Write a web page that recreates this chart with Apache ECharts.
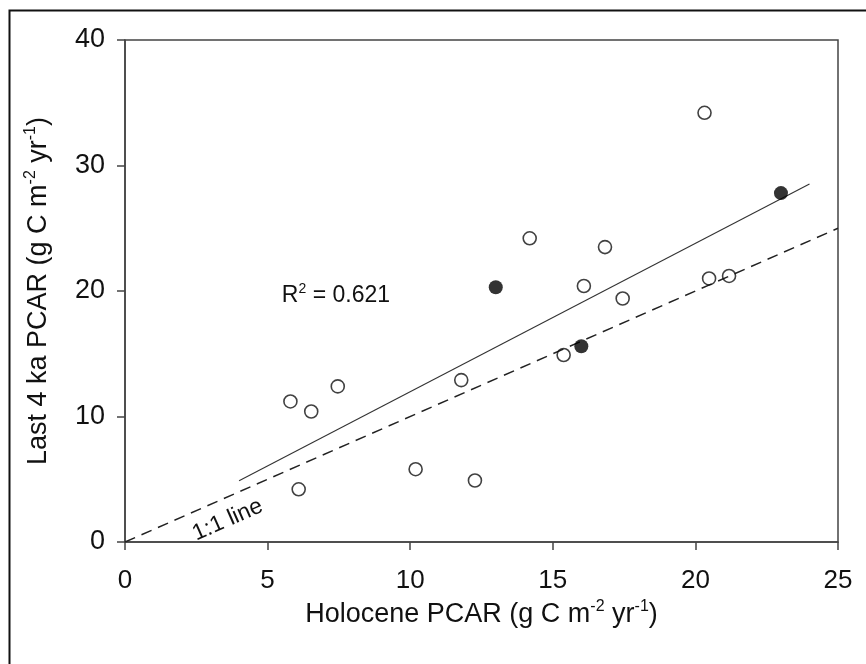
<!DOCTYPE html>
<html><head><meta charset="utf-8">
<script src="https://cdn.jsdelivr.net/npm/echarts@6/dist/echarts.min.js"></script>
<style>html,body{margin:0;padding:0;background:#fff}#c{width:866px;height:664px}</style>
</head><body><div id="c"></div>
<script>
// ---- data ----
const xTicks = [0, 5, 10, 15, 20, 25];
const yTicks = [0, 10, 20, 30, 40];
const openX = [5.80, 6.09, 6.53, 7.46, 10.19, 11.79, 12.27, 14.19, 15.38, 16.09, 16.83, 17.45, 20.32, 20.48, 21.18];
const openY = [11.2, 4.2, 10.4, 12.4, 5.8, 12.9, 4.9, 24.2, 14.9, 20.4, 23.5, 19.4, 34.2, 21.0, 21.2];
const filledX = [13.0, 16.0, 23.0];
const filledY = [20.3, 15.6, 27.8];
const fitX = [4, 24];
const fitY = [4.88, 28.53];
const oneToOneX = [0, 25];
const oneToOneY = [0, 25];
const rSquared = '0.621';
const rLabelAt = [5.5, 19.6];
const oneLabelAt = [3.6, 1.75];

const FONT = "'Liberation Sans', Arial, sans-serif";
const pairs = (xs, ys) => xs.map((x, i) => [x, ys[i]]);

const chart = echarts.init(document.getElementById('c'), null, {renderer: 'canvas'});
const axisCommon = {
  type: 'value',
  axisLine: {show: true, lineStyle: {color: '#444', width: 1.5}},
  axisTick: {show: true, inside: false, length: 8, lineStyle: {color: '#444', width: 1.5}},
  splitLine: {show: false},
  nameLocation: 'middle',
  nameTextStyle: {color: '#111', fontFamily: FONT}
};
const titleRich = {
  a: {fontSize: 27, fontFamily: FONT, color: '#111', lineHeight: 32},
  s: {fontSize: 16, fontFamily: FONT, color: '#111', lineHeight: 18, verticalAlign: 'top'}
};
chart.setOption({
  animation: false,
  backgroundColor: '#fff',
  grid: {left: 125, right: 28, top: 40, bottom: 122, show: true, borderColor: '#444', borderWidth: 1.5},
  xAxis: Object.assign({}, axisCommon, {
    min: xTicks[0], max: xTicks[xTicks.length - 1], interval: xTicks[1] - xTicks[0],
    axisLabel: {fontSize: 26, fontFamily: FONT, color: '#111', margin: 26},
    name: '{a|Holocene PCAR (g C m}{s|-2}{a| yr}{s|-1}{a|)}',
    nameGap: 54,
    nameTextStyle: {rich: titleRich}
  }),
  yAxis: Object.assign({}, axisCommon, {
    min: yTicks[0], max: yTicks[yTicks.length - 1], interval: yTicks[1] - yTicks[0],
    axisLabel: {fontSize: 27, fontFamily: FONT, color: '#111', margin: 20},
    name: '{a|Last 4 ka PCAR (g C m}{s|-2}{a| yr}{s|-1}{a|)}',
    nameGap: 70,
    nameTextStyle: {rich: titleRich}
  }),
  series: [
    {type: 'line', data: pairs(oneToOneX, oneToOneY), symbol: 'none', silent: true,
     lineStyle: {color: '#222', width: 1.4, type: [11, 7]}, z: 1},
    {type: 'line', data: pairs(fitX, fitY), symbol: 'none', silent: true,
     lineStyle: {color: '#333', width: 1.1}, z: 1},
    {type: 'scatter', data: pairs(openX, openY), symbol: 'circle', symbolSize: 13,
     itemStyle: {color: 'rgba(255,255,255,0)', borderColor: '#111', borderWidth: 1.6}, z: 3},
    {type: 'scatter', data: pairs(filledX, filledY), symbol: 'circle', symbolSize: 14,
     itemStyle: {color: '#000', borderColor: '#000', borderWidth: 0}, z: 3}
  ]
});

const rp = chart.convertToPixel({gridIndex: 0}, rLabelAt);
const op = chart.convertToPixel({gridIndex: 0}, oneLabelAt);
const p0 = chart.convertToPixel({gridIndex: 0}, [oneToOneX[0], oneToOneY[0]]);
const p1 = chart.convertToPixel({gridIndex: 0}, [oneToOneX[1], oneToOneY[1]]);
const ang = Math.atan2(p0[1] - p1[1], p1[0] - p0[0]);

chart.setOption({
  graphic: [
    {type: 'rect', left: 7, top: 8, shape: {x: 0, y: 0, width: 900, height: 700}, silent: true,
     style: {fill: 'none', stroke: '#111', lineWidth: 2}, z: 0},
    {type: 'text', x: rp[0], y: rp[1], silent: true, z: 10,
     style: {text: '{a|R}{s|2}{a| = ' + rSquared + '}', verticalAlign: 'middle', align: 'left',
       rich: {a: {fontSize: 23, fontFamily: FONT, fill: '#111', lineHeight: 28},
              s: {fontSize: 14, fontFamily: FONT, fill: '#111', lineHeight: 15, verticalAlign: 'top'}}}},
    {type: 'text', x: op[0], y: op[1], rotation: ang, silent: true, z: 10,
     style: {text: '1:1 line', fontSize: 23, fontFamily: FONT, fill: '#111', align: 'center', verticalAlign: 'middle'}}
  ]
});
</script></body></html>
